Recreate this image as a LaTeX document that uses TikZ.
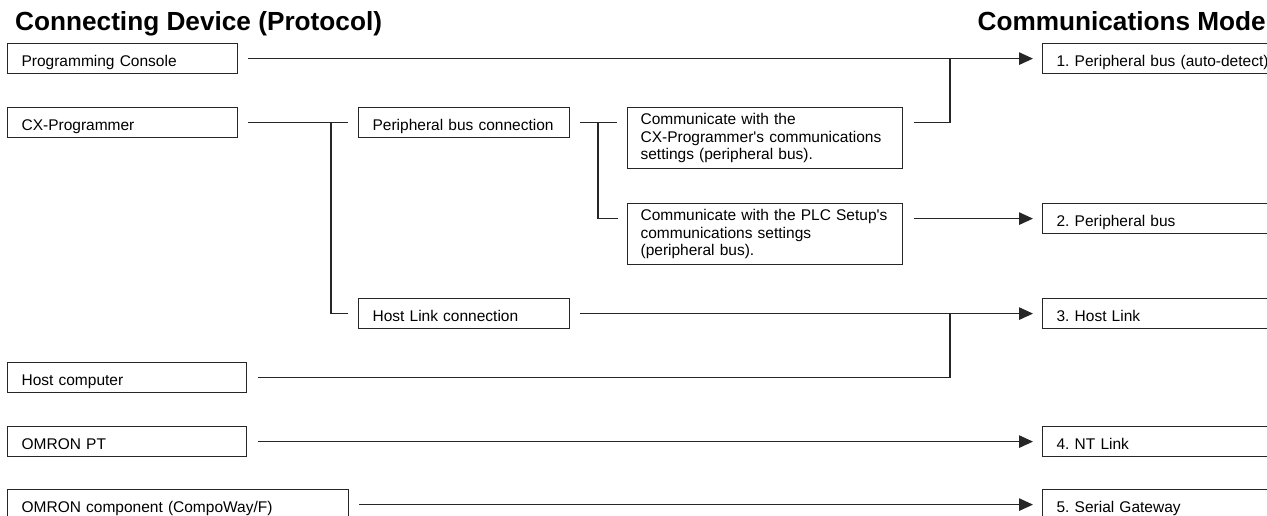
\documentclass[tikz,border=0pt]{standalone}
\usepackage{fontspec}
\setmainfont{Liberation Sans}
\usetikzlibrary{positioning,arrows.meta}
\frenchspacing

\begin{document}
\begin{tikzpicture}[
    x=1pt, y=-1pt,
    box/.style={rectangle, draw=black!85, line width=1.2pt, anchor=north west,
                inner xsep=14pt, inner ysep=0pt, align=left,
                font=\fontsize{15.5}{17.6}\selectfont},
    one/.style={box, text width=#1, text height=23pt, text depth=7pt},
    multi/.style={box, inner xsep=13pt, text width=#1, minimum height=61pt},
    head/.style={font=\fontsize{26.2}{28}\selectfont\bfseries, anchor=base west, inner sep=0pt},
    conn/.style={draw=black!85, line width=1.2pt},
    arr/.style={conn, -{Triangle[length=14pt,width=12.5pt]}, shorten >=9pt}
]
\useasboundingbox (0,0) rectangle (1267,515);

\node[head] (devhead) at (15,30) {Connecting Device (Protocol)};
\node[head, anchor=base east] (modehead) at (1266,30) {Communications Mode};

\node[one=202pt] (pc) at (7,43) {Programming Console};
\node[one=202pt] (cx) at (7,107) {CX-Programmer};
\node[one=211pt] (hc) at (7,362) {Host computer};
\node[one=211pt] (pt) at (7,426) {OMRON PT};
\node[one=313pt] (comp) at (7,489) {OMRON component (CompoWay/F)};

\node[one=183pt] (pbc) at (358,107) {Peripheral bus connection};
\node[one=183pt] (hlc) at (358,298) {Host Link connection};

\node[multi=249pt] (cxset) at (627,107) {Communicate with the\\CX-Programmer\textquotesingle s communications\\settings (peripheral bus).};
\node[multi=249pt] (plcset) at (627,203) {Communicate with the PLC Setup\textquotesingle s\\communications settings\\(peripheral bus).};

\node[one=220pt] (m1) at (1042,43) {1. Peripheral bus (auto-detect)};
\node[one=220pt] (m2) at (1042,203) {2. Peripheral bus};
\node[one=220pt] (m3) at (1042,298) {3. Host Link};
\node[one=220pt] (m4) at (1042,426) {4. NT Link};
\node[one=220pt] (m5) at (1042,489) {5. Serial Gateway};

\coordinate (jcx) at ([xshift=-27pt]pbc.west);
\coordinate (jpbc) at ([xshift=-29pt]cxset.west |- pbc.east);
\coordinate (jm1) at ([xshift=-92pt]m1.west);
\coordinate (jm3) at ([xshift=-92pt]m3.west);

\draw[arr, shorten <=10pt] (pc.east) -- (m1.west);
\draw[conn, shorten <=10pt, shorten >=10pt] (cx.east) -- (pbc.west);
\draw[conn, shorten >=10pt] (jcx) |- (hlc.west);
\draw[conn, shorten <=10pt, shorten >=10pt] (pbc.east) -- (cxset.west |- pbc.east);
\draw[conn, shorten >=9pt] (jpbc) |- (plcset.west |- m2.west);
\draw[conn, shorten <=11pt] (cxset.east |- pbc.east) -| (jm1);
\draw[arr, shorten <=11pt] (plcset.east |- m2.west) -- (m2.west);
\draw[arr, shorten <=10pt] (hlc.east) -- (m3.west);
\draw[conn, shorten <=11pt] (hc.east) -| (jm3);
\draw[arr, shorten <=11pt] (pt.east) -- (m4.west);
\draw[arr, shorten <=10pt] (comp.east) -- (m5.west);
\end{tikzpicture}
\end{document}
